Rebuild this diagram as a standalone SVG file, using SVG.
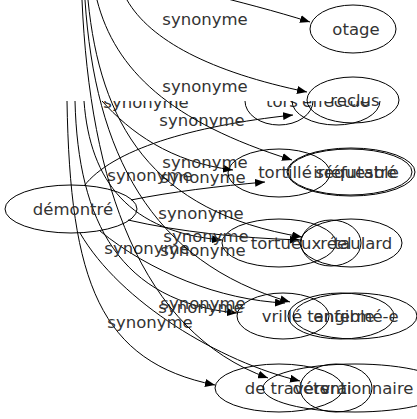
<svg xmlns="http://www.w3.org/2000/svg" width="417" height="419" viewBox="0 0 417 419">
<style>
text{font-family:"DejaVu Sans","Liberation Sans",sans-serif;font-size:16.5px;fill:#333;text-anchor:middle}
ellipse{fill:none;stroke:#000;stroke-width:1}
.e path{fill:none;stroke:#000;stroke-width:1}
</style>
<defs>
<marker id="ah" viewBox="0 0 10 8" refX="10" refY="4" markerWidth="10" markerHeight="8" markerUnits="userSpaceOnUse" orient="auto"><path d="M0,0 L10,4 L0,8 Z" fill="#000"/></marker>
</defs>
<rect width="417" height="419" fill="#fff"/>
<!-- lower layers -->
<g id="graph-a-c">
<g class="e" id="connectors-lower">
<path marker-end="url(#ah)" d="M76,50 C150,80 200,88 246,93"/>
<path marker-end="url(#ah)" d="M102,101 C130,132 170,162 233,170"/>
<path marker-end="url(#ah)" d="M84,101 C90,182 130,232 222,240"/>
<path marker-end="url(#ah)" d="M75,101 C78,222 120,302 237,313"/>
<path marker-end="url(#ah)" d="M67,101 C70,282 100,362 215,385"/>
<path marker-end="url(#ah)" d="M84,186 C112,150 190,126 293,115"/>
<path marker-end="url(#ah)" d="M131,200 C170,192 220,186 265,182"/>
<path marker-end="url(#ah)" d="M128,220 C180,232 240,238 300,240"/>
<path marker-end="url(#ah)" d="M100,231 C150,272 220,300 285,303"/>
<path marker-end="url(#ah)" d="M80,233 C120,302 220,362 300,381"/>
<text x="146" y="108">synonyme</text>
<text x="202" y="126">synonyme</text>
<text x="150" y="181">synonyme</text>
<text x="203" y="183">synonyme</text>
<text x="201" y="219">synonyme</text>
<text x="147" y="254">synonyme</text>
<text x="203" y="256">synonyme</text>
<text x="201" y="313">synonyme</text>
<text x="150" y="328">synonyme</text>
</g>
<g id="n-demontre"><ellipse cx="71" cy="209" rx="66" ry="24"/><text x="73" y="215">démontré</text></g>
<g id="n-tors"><ellipse cx="279" cy="101" rx="34" ry="24"/><text x="282" y="107">tors</text></g>
<g id="n-effectue"><ellipse cx="336" cy="101" rx="44" ry="24"/><text x="336" y="107">effectué</text></g>
<g id="n-tortille"><ellipse cx="279" cy="173" rx="51" ry="24"/><text x="285" y="178">tortillé</text></g>
<g id="n-irrefutable"><ellipse cx="351" cy="172" rx="64" ry="24"/><text x="356" y="178">irréfutable</text></g>
<g id="n-tortueux"><ellipse cx="279" cy="243" rx="57" ry="24"/><text x="286" y="249">tortueux</text></g>
<g id="n-reel"><ellipse cx="331" cy="243" rx="30" ry="23"/><text x="336" y="249">réel</text></g>
<g id="n-vrille"><ellipse cx="283" cy="316" rx="46" ry="23"/><text x="282" y="322">vrillé</text></g>
<g id="n-tangible"><ellipse cx="341" cy="316" rx="53" ry="23"/><text x="341" y="322">tangible</text></g>
<g id="n-de-travers"><ellipse cx="279" cy="388" rx="64" ry="24"/><text x="287" y="394">de travers</text></g>
<g id="n-vrai"><ellipse cx="336" cy="388" rx="36" ry="24"/><text x="336" y="394">vrai</text></g>
</g>
<rect x="0" y="0" width="417" height="101" fill="#fff"/>
<!-- upper layer -->
<g id="graph-b">
<g class="e" id="connectors-upper">
<path marker-end="url(#ah)" d="M200,-8 C240,2 275,11 310,22"/>
<path marker-end="url(#ah)" d="M127,0 C150,40 210,72 307,92"/>
<path marker-end="url(#ah)" d="M97,0 C115,70 170,122 292,160"/>
<path marker-end="url(#ah)" d="M88,0 C100,122 150,212 302,237"/>
<path marker-end="url(#ah)" d="M85,0 C95,152 150,262 290,302"/>
<path marker-end="url(#ah)" d="M82,0 C90,182 140,332 268,378"/>
<text x="205" y="25">synonyme</text>
<text x="205" y="92">synonyme</text>
<text x="205" y="168">synonyme</text>
<text x="206" y="242">synonyme</text>
<text x="203" y="309">synonyme</text>
</g>
<g id="n-otage"><ellipse cx="353" cy="29" rx="43" ry="24"/><text x="356" y="35">otage</text></g>
<g id="n-reclus"><ellipse cx="353" cy="100" rx="46" ry="23"/><text x="355" y="106">reclus</text></g>
<g id="n-sequestre"><ellipse cx="350" cy="172" rx="62" ry="23"/><text x="356" y="178">séquestré</text></g>
<g id="n-taulard"><ellipse cx="351" cy="243" rx="51" ry="24"/><text x="363" y="249">taulard</text></g>
<g id="n-enferme"><ellipse cx="355" cy="316" rx="62" ry="23"/><text x="356" y="322">enfermé-e</text></g>
<g id="n-detentionnaire"><ellipse cx="355" cy="388" rx="92" ry="24"/><text x="353" y="394">détentionnaire</text></g>
</g>
</svg>
